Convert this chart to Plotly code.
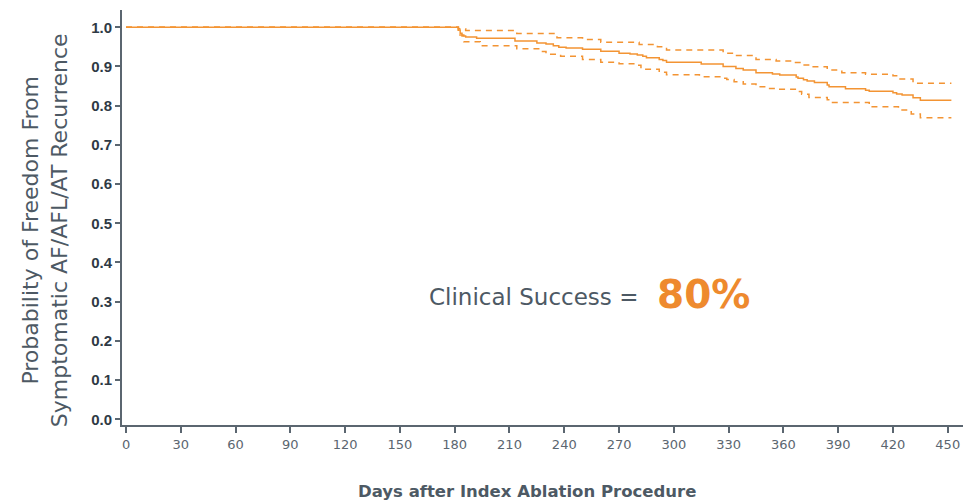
import plotly.graph_objects as go

# Kaplan-Meier estimate (days, probability)
km_days = [0, 182, 183, 184, 186, 192, 213, 225, 230, 234, 237, 241, 250, 260, 270, 276, 280, 283, 285, 292,
           294, 296, 315, 327, 334, 338, 345, 354, 358, 367, 368, 371, 373, 377, 384, 385, 394, 405, 407, 420,
           422, 425, 431, 435, 452]
km_surv = [1.0, 0.993, 0.985, 0.978, 0.975, 0.972, 0.965, 0.960, 0.957, 0.953, 0.949, 0.947, 0.944, 0.939, 0.934,
           0.932, 0.929, 0.926, 0.922, 0.918, 0.915, 0.911, 0.906, 0.900, 0.895, 0.891, 0.884, 0.881, 0.878, 0.873,
           0.870, 0.866, 0.863, 0.859, 0.853, 0.848, 0.843, 0.839, 0.837, 0.833, 0.830, 0.827, 0.820, 0.814, 0.814]

# Upper confidence bound
up_days = [0, 182, 186, 214, 236, 250, 260, 281, 291, 296, 327, 333, 345, 356, 366, 370, 375, 384, 392, 405,
           420, 423, 431, 452]
up_vals = [1.0, 0.996, 0.992, 0.984, 0.973, 0.969, 0.962, 0.956, 0.950, 0.942, 0.934, 0.928, 0.918, 0.914, 0.910,
           0.904, 0.899, 0.891, 0.884, 0.880, 0.876, 0.868, 0.857, 0.857]

# Lower confidence bound
lo_days = [0, 182, 185, 194, 214, 227, 230, 238, 250, 260, 270, 280, 282, 292, 296, 314, 327, 329, 333, 338,
           345, 352, 358, 367, 370, 374, 384, 386, 407, 423, 430, 435, 452]
lo_vals = [1.0, 0.980, 0.963, 0.953, 0.945, 0.938, 0.931, 0.926, 0.918, 0.911, 0.907, 0.903, 0.893, 0.885, 0.879,
           0.874, 0.870, 0.867, 0.861, 0.855, 0.848, 0.844, 0.842, 0.836, 0.829, 0.821, 0.815, 0.808, 0.797, 0.789,
           0.779, 0.769, 0.769]

x_ticks = [0, 30, 60, 90, 120, 150, 180, 210, 240, 270, 300, 330, 360, 390, 420, 450]
y_ticks = [0.0, 0.1, 0.2, 0.3, 0.4, 0.5, 0.6, 0.7, 0.8, 0.9, 1.0]

ORANGE = "#F39433"
GREY = "#4D5964"

fig = go.Figure()
for xs, ys, dash in [(up_days, up_vals, "6px,5px"), (lo_days, lo_vals, "6px,5px"), (km_days, km_surv, "solid")]:
    fig.add_trace(go.Scatter(x=xs, y=ys, mode="lines", line=dict(color=ORANGE, width=1.5, shape="hv", dash=dash),
                             showlegend=False, hoverinfo="skip"))

fig.update_layout(
    width=963, height=496,
    margin=dict(l=114, r=5, t=2, b=79),
    paper_bgcolor="white", plot_bgcolor="white",
    xaxis=dict(range=[-2.2, 460], tickvals=x_ticks, ticks="outside", ticklen=6, tickcolor="#5b6670",
               tickwidth=1.5, showline=True, linecolor="#5b6670", linewidth=2, showgrid=False, zeroline=False,
               tickfont=dict(family="DejaVu Sans", size=13, color="#5b6670")),
    yaxis=dict(range=[-0.0145, 1.044], tickvals=y_ticks, tickformat=".1f", ticks="outside", ticklen=5,
               tickcolor="#5b6670", tickwidth=1.5, showline=True, linecolor="#5b6670", linewidth=2,
               showgrid=False, zeroline=False,
               tickfont=dict(family="Liberation Sans", size=15, color="#2f3a45", weight="bold")),
    annotations=[
        dict(text="Days after Index Ablation Procedure", xref="paper", yref="paper", x=0.48, y=-0.161,
             xanchor="center", yanchor="middle", showarrow=False,
             font=dict(family="DejaVu Sans", size=16.5, color=GREY, weight="bold")),
        dict(text="Probability of Freedom From<br>Symptomatic AF/AFL/AT Recurrence", xref="paper", yref="paper",
             x=-0.091, y=0.47, xanchor="center", yanchor="middle", textangle=-90, showarrow=False,
             font=dict(family="DejaVu Sans", size=22, color=GREY)),
        dict(text="Clinical Success =", xref="x", yref="y", x=281.3, y=0.312, xanchor="right", yanchor="middle",
             showarrow=False, font=dict(family="DejaVu Sans", size=23, color=GREY)),
        dict(text="80%", xref="x", yref="y", x=289.5, y=0.318, xanchor="left", yanchor="middle",
             showarrow=False, font=dict(family="DejaVu Sans", size=39, color="#EE8A2E", weight="bold")),
    ],
)

fig.write_html("out.html")
